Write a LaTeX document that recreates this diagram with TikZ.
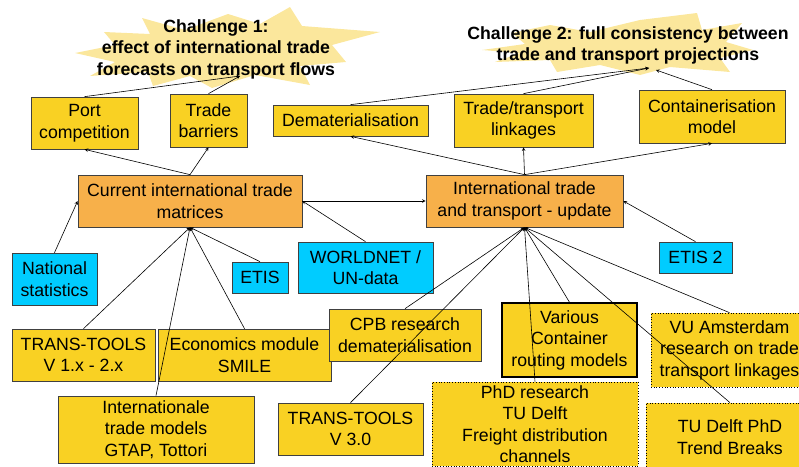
\documentclass[tikz,border=0pt]{standalone}
\usepackage{fontspec}
\setmainfont{Liberation Sans}
\definecolor{boxyellow}{HTML}{F9D123}
\definecolor{boxorange}{HTML}{F7B04A}
\definecolor{boxcyan}{HTML}{00CCFF}
\definecolor{staryellow}{HTML}{FBE79C}
\tikzset{
	txt/.style={align=center, inner sep=0pt, font=\fontsize{17.7}{21.5}\selectfont},
	box/.style={txt, draw=black!75, line width=0.7pt, fill=boxyellow},
	orangebox/.style={box, fill=boxorange},
	cyanbox/.style={box, fill=boxcyan},
	dotbox/.style={box, dotted, draw=black},
	thickbox/.style={box, draw=black, line width=1.4pt},
	headline/.style={txt, font=\fontsize{17.7}{21.5}\selectfont\bfseries},
	link/.style={-stealth, line width=0.6pt},
}
\begin{document}
\begin{tikzpicture}[x=1pt, y=-1pt]
		\clip (0,0) rectangle (799,466);
		% challenge 1
		\fill[staryellow] (142,18) -- (185,30) -- (228,14) -- (260,24) -- (290,7) -- (302,26)
			-- (380,32) -- (332,45) -- (346,62) -- (300,66) -- (310,85) -- (255,75) -- (212,88)
			-- (190,76) -- (153,86) -- (148,72) -- (90,76) -- (115,62) -- (75,53) -- (115,45)
			-- (104,32) -- (150,34) -- cycle;
		\node[headline] (chalone) at (216,49) {Challenge 1:\\effect of international trade\\forecasts on transport flows};
		% challenge 2
		\fill[staryellow] (482,50) -- (525,44) -- (512,33) -- (550,25) -- (590,32) -- (640,20)
			-- (697,13) -- (702,30) -- (742,23) -- (726,42) -- (753,50) -- (720,58) -- (730,72)
			-- (670,67) -- (640,75) -- (600,65) -- (557,72) -- (550,60) -- (495,62) -- (520,53) -- cycle;
		\node[headline] (chaltwo) at (628,45.5) {Challenge 2: full consistency between\\trade and transport projections};
		\coordinate (tipone) at (240,76);
		\coordinate (tiptwo) at (649,68);
		\coordinate (tipthree) at (656,70);

		% upper row
		\node[box, minimum width=107, minimum height=52] (port) at (84.5,123) {Port\\competition};
		\node[box, minimum width=77, minimum height=53] (barriers) at (208.5,120.5) {Trade\\barriers};
		\node[box, minimum width=155, minimum height=31] (demat) at (350.5,120.5) {Dematerialisation};
		\node[box, minimum width=139, minimum height=53] (linkages) at (523.5,120.5) {Trade/transport\\linkages};
		\node[box, minimum width=146, minimum height=53] (container) at (712,116.5) {Containerisation\\model};

		% trade matrices
		\node[orangebox, minimum width=224, minimum height=52] (current) at (190,201) {Current international trade\\matrices};
		\node[orangebox, minimum width=197, minimum height=52] (update) at (524.5,201) {International trade\\and transport - update};

		% data sources
		\node[cyanbox, minimum width=85, minimum height=52] (national) at (54.5,279) {National\\statistics};
		\node[cyanbox, minimum width=56, minimum height=31] (etis) at (260,277.5) {ETIS};
		\node[cyanbox, minimum width=135, minimum height=51] (worldnet) at (365.5,267.5) {WORLDNET /\\UN-data};
		\node[cyanbox, minimum width=73, minimum height=31] (etistwo) at (695.5,257.5) {ETIS 2};

		% models
		\node[box, minimum width=143, minimum height=52] (ttone) at (83.5,355) {TRANS-TOOLS\\V 1.x - 2.x};
		\node[box, minimum width=173, minimum height=52] (smile) at (244.5,355) {Economics module\\SMILE};
		\node[box, minimum width=196, minimum height=67] (gtap) at (156,429.5) {Internationale\\trade models\\GTAP, Tottori};
		\node[box, minimum width=152, minimum height=52] (cpb) at (405,335) {CPB research\\dematerialisation};
		\node[box, minimum width=145, minimum height=52] (tttwo) at (350.5,429) {TRANS-TOOLS\\V 3.0};
		\node[thickbox, minimum width=135, minimum height=74] (various) at (569.5,340) {Various\\Container\\routing models};
		\node[dotbox, minimum width=206, minimum height=84] (phd) at (535,424) {PhD research\\TU Delft\\Freight distribution\\channels};
		\node[dotbox, minimum width=157, minimum height=74] (vu) at (729.5,350) {VU Amsterdam\\research on trade\\transport linkages};
		\node[dotbox, minimum width=168, minimum height=68] (trend) at (730,437) {TU Delft PhD\\Trend Breaks};

		% to the challenges
		\draw[link] (port.north) -- (tipone);
		\draw[link] (barriers.north) -- (tipone);
		\draw[link] (demat.north) -- (tiptwo);
		\draw[link] (linkages.north) -- (tiptwo);
		\draw[link] (container.north) -- (tipthree);

		\draw[link] (current.north) -- (port.south);
		\draw[link] (current.north) -- (barriers.south);
		\draw[link] (update.north) -- (demat.south);
		\draw[link] (update.north) -- (linkages.south);
		\draw[link] (update.north) -- (container.south);

		% inputs
		\draw[link] (national.north) -- (current.west);
		\draw[link] (worldnet.north) -- (current.east);
		\draw[link] (current.east) -- (update.west);
		\draw[link] (etistwo.north) -- (update.east);
		\foreach \src in {etis, ttone, smile, gtap}
			\draw[link] (\src.north) -- (current.south);
		\foreach \src in {cpb, tttwo, various, phd, vu, trend}
			\draw[link] (\src.north) -- (update.south);
	\end{tikzpicture}
\end{document}
